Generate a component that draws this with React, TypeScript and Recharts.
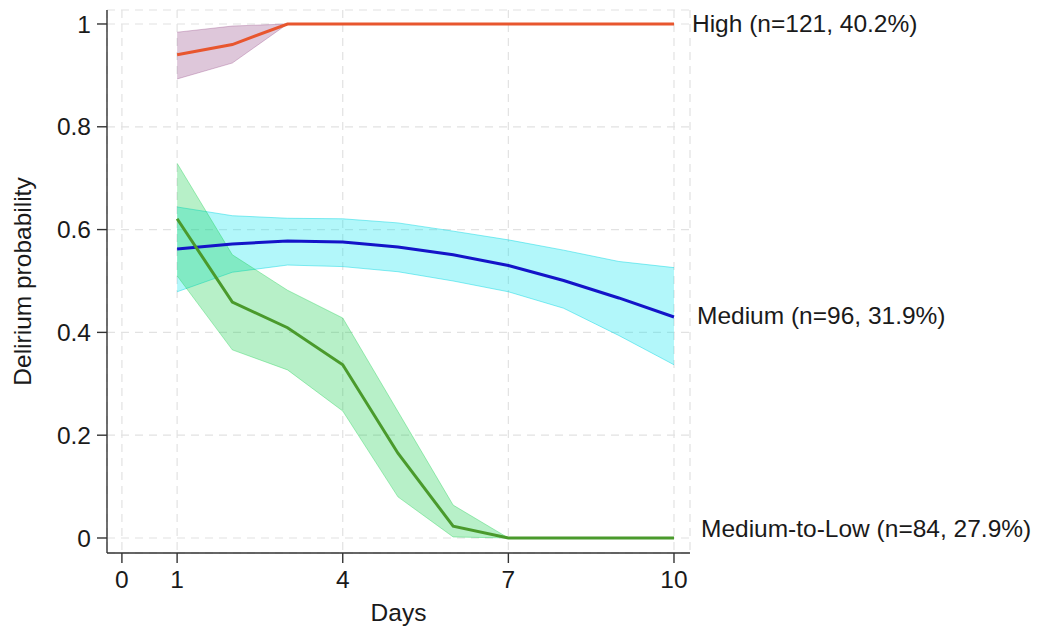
import { Area, CartesianGrid, ComposedChart, Label, LabelList, Line, XAxis, YAxis } from "recharts";

const days = [1, 2, 3, 4, 5, 6, 7, 8, 9, 10];

const highMean = [0.94, 0.96, 1, 1, 1, 1, 1, 1, 1, 1];
const highLow = [0.893, 0.924, 1, 1, 1, 1, 1, 1, 1, 1];
const highHigh = [0.984, 0.996, 1, 1, 1, 1, 1, 1, 1, 1];

const mediumMean = [0.562, 0.572, 0.578, 0.576, 0.566, 0.551, 0.53, 0.501, 0.467, 0.43];
const mediumLow = [0.479, 0.517, 0.531, 0.528, 0.518, 0.5, 0.479, 0.447, 0.394, 0.337];
const mediumHigh = [0.644, 0.627, 0.622, 0.621, 0.613, 0.597, 0.58, 0.56, 0.538, 0.526];

const lowMean = [0.621, 0.459, 0.409, 0.337, 0.165, 0.023, 0, 0, 0, 0];
const lowLow = [0.51, 0.366, 0.327, 0.247, 0.08, 0.002, 0, 0, 0, 0];
const lowHigh = [0.729, 0.551, 0.482, 0.428, 0.246, 0.064, 0, 0, 0, 0];

const xTicks = [0, 1, 4, 7, 10];
const yTicks = [0, 0.2, 0.4, 0.6, 0.8, 1];
const seriesNames = ["High (n=121, 40.2%)", "Medium (n=96, 31.9%)", "Medium-to-Low (n=84, 27.9%)"];

const data = days.map((day, i) => ({
  day,
  high: highMean[i],
  highBand: [highLow[i], highHigh[i]],
  medium: mediumMean[i],
  mediumBand: [mediumLow[i], mediumHigh[i]],
  low: lowMean[i],
  lowBand: [lowLow[i], lowHigh[i]]
}));

const font = "'Liberation Sans', Arial, Helvetica, sans-serif";
const fontSize = 24.5;
const ink = "#1a1a1a";

// draws the series name next to the last point only
function endLabel(text: string, dx: number, dy: number) {
  return (props: any) => {
    if (props.index !== days.length - 1) return null;
    return (
      <text x={Number(props.x) + dx} y={Number(props.y) + dy} fill={ink} fontSize={fontSize} fontFamily={font}>
        {text}
      </text>
    );
  };
}

export default function App() {
  return (
    <div style={{ position: "absolute", left: 0, top: 0, background: "#fff" }}>
      <ComposedChart
        width={1040}
        height={629}
        data={data}
        margin={{ top: 10, right: 350, bottom: 6, left: 47 }}
        style={{ fontFamily: font }}
      >
        <CartesianGrid stroke="#e2e2e2" strokeDasharray="8 6" strokeWidth={1.2} />
        <XAxis
          dataKey="day"
          type="number"
          domain={[-0.27, 10.29]}
          ticks={xTicks}
          height={70}
          tickSize={10}
          tickMargin={8}
          axisLine={{ stroke: "#333", strokeWidth: 1.4 }}
          tickLine={{ stroke: "#333", strokeWidth: 1.4 }}
          tick={{ fill: ink, fontSize }}
        >
          <Label value="Days" position="insideBottom" offset={2} fill={ink} fontSize={fontSize} />
        </XAxis>
        <YAxis
          type="number"
          domain={[-0.0292, 1.0272]}
          ticks={yTicks}
          width={60}
          tickSize={10}
          tickMargin={6}
          axisLine={{ stroke: "#333", strokeWidth: 1.4 }}
          tickLine={{ stroke: "#333", strokeWidth: 1.4 }}
          tick={{ fill: ink, fontSize }}
        >
          <Label
            content={() => (
              <text
                x={22}
                y={281.5}
                transform="rotate(-90 22 281.5)"
                textAnchor="middle"
                dominantBaseline="central"
                fill={ink}
                fontSize={fontSize}
                fontFamily={font}
              >
                Delirium probability
              </text>
            )}
          />
        </YAxis>

        <Area
          dataKey="highBand"
          type="linear"
          fill="#8a377a"
          fillOpacity={0.28}
          stroke="#8a377a"
          strokeOpacity={0.3}
          strokeWidth={1}
          isAnimationActive={false}
        />
        <Line dataKey="high" type="linear" stroke="#e8562e" strokeWidth={3} dot={false} isAnimationActive={false}>
          <LabelList content={endLabel(seriesNames[0], 18, 8.3)} />
        </Line>

        <Area
          dataKey="mediumBand"
          type="linear"
          fill="#00e5ee"
          fillOpacity={0.3}
          stroke="#00d5e0"
          strokeOpacity={0.45}
          strokeWidth={1}
          isAnimationActive={false}
        />
        <Line dataKey="medium" type="linear" stroke="#1414c8" strokeWidth={3} dot={false} isAnimationActive={false}>
          <LabelList content={endLabel(seriesNames[1], 23, 6.6)} />
        </Line>

        <Area
          dataKey="lowBand"
          type="linear"
          fill="#0fcd48"
          fillOpacity={0.3}
          stroke="#0fcd48"
          strokeOpacity={0.35}
          strokeWidth={1}
          isAnimationActive={false}
        />
        <Line dataKey="low" type="linear" stroke="#4a9a2c" strokeWidth={3} dot={false} isAnimationActive={false}>
          <LabelList content={endLabel(seriesNames[2], 27, -0.7)} />
        </Line>
      </ComposedChart>
    </div>
  );
}
